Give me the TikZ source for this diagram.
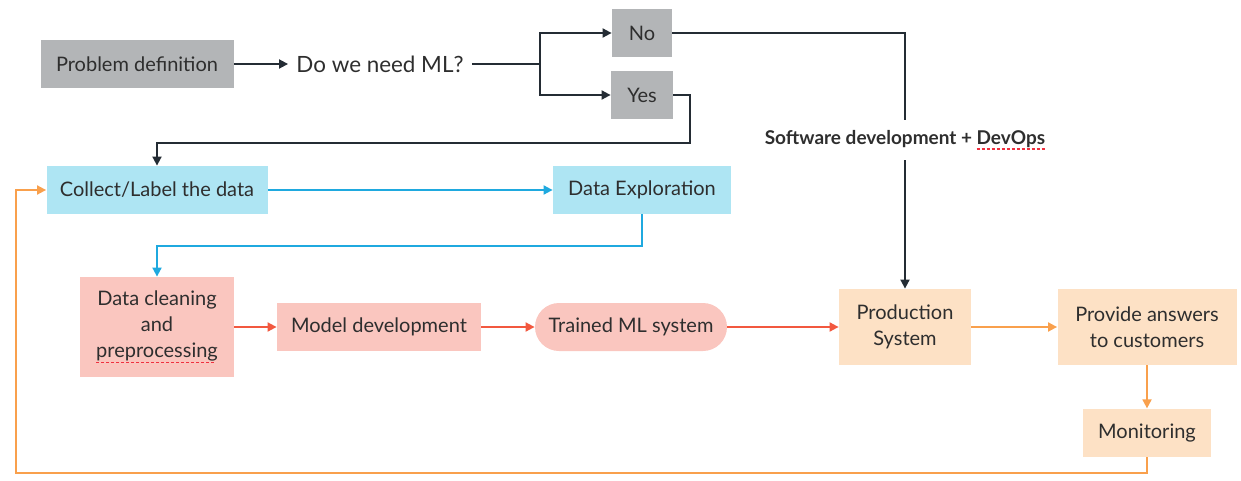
\documentclass[tikz,border=0pt]{standalone}
\usepackage{fontspec}
\setmainfont{Lato}
\usetikzlibrary{arrows.meta, positioning}

\definecolor{boxgray}{HTML}{B3B5B7}
\definecolor{boxblue}{HTML}{AEE5F3}
\definecolor{boxpink}{HTML}{FAC6BF}
\definecolor{boxpeach}{HTML}{FDE1C5}
\definecolor{linedark}{HTML}{242C34}
\definecolor{lineblue}{HTML}{1FA9DF}
\definecolor{linered}{HTML}{F2583F}
\definecolor{lineorange}{HTML}{F9A04C}
\definecolor{textdark}{HTML}{2E2E2E}
\definecolor{spellred}{HTML}{F0303F}

\newsavebox{\spellbox}
\newcount\spellcount
\def\spelldashes{\ifnum\spellcount>0 \rule{1.6pt}{0.8pt}\kern0.9pt\advance\spellcount-1 \expandafter\spelldashes\fi}
\newcommand{\spellmark}[1]{\sbox{\spellbox}{#1}%
    \spellcount=\numexpr\wd\spellbox/\dimexpr2.5pt\relax\relax
    \textcolor{spellred}{\rlap{\raisebox{-3pt}{\spelldashes}}}%
    \usebox{\spellbox}}

\begin{document}
\begin{tikzpicture}[
        x=0.5pt, y=-0.5pt,
        box/.style={rectangle, inner sep=0pt, align=center, text=textdark,
            font=\fontsize{10}{13}\selectfont},
        graybox/.style={box, fill=boxgray},
        bluebox/.style={box, fill=boxblue},
        pinkbox/.style={box, fill=boxpink},
        peachbox/.style={box, fill=boxpeach},
        link/.style={-{Triangle[length=4.5pt, width=4.5pt]}, line width=0.9pt},
        darklink/.style={link, draw=linedark},
        bluelink/.style={link, draw=lineblue},
        redlink/.style={link, draw=linered},
        orangelink/.style={link, draw=lineorange}
    ]
    \useasboundingbox (0,0) rectangle (1241,481);

    % Nodes
    \node[graybox, minimum width=96.5pt, minimum height=24pt] (probdef) at (137,64) {Problem definition};
    \node[text=textdark, inner sep=4pt, font=\fontsize{11.2}{14}\selectfont] (needml) at (380,64) {Do we need ML?};
    \node[graybox, minimum width=30pt, minimum height=24pt] (no) at (642,33) {No};
    \node[graybox, minimum width=31pt, minimum height=24pt] (yes) at (642,95) {Yes};
    \node[text=textdark, inner xsep=2pt, inner ysep=5pt, font=\fontsize{9.5}{12}\bfseries] (swdev) at (905,140)
        {Software development + \spellmark{DevOps}};

    \node[bluebox, minimum width=110.5pt, minimum height=24pt] (collect) at (157,190) {Collect/Label the data};
    \node[bluebox, minimum width=89pt, minimum height=24pt] (explore) at (642,190) {Data Exploration};

    \node[pinkbox, minimum width=77pt, minimum height=50pt] (clean) at (157,327) {Data cleaning\\and\\\spellmark{preprocessing}};
    \node[pinkbox, minimum width=102pt, minimum height=24pt] (model) at (379,327) {Model development};
    \node[pinkbox, minimum width=96pt, minimum height=24pt, rounded corners=12pt] (trained) at (631,327) {Trained ML system};

    \node[peachbox, minimum width=66pt, minimum height=38pt] (prod) at (905,327) {Production\\System};
    \node[peachbox, minimum width=89.5pt, minimum height=38pt] (answers) at (1147,327) {Provide answers\\to customers};
    \node[peachbox, minimum width=64pt, minimum height=24pt, below=21.5pt of answers] (monit) {Monitoring};

    \coordinate (split) at (540,64);
    \coordinate (yesturn) at (690,143);
    \coordinate (bluebend) at (400,246);
    \coordinate (loopbr) at (1147,473);
    \coordinate (loopbl) at (16,473);

    % Links
    \draw[darklink] (probdef) -- (needml);
    \draw[line width=0.9pt, draw=linedark] (needml) -- (split);
    \draw[darklink] (split) |- (no);
    \draw[darklink] (split) |- (yes);
    \draw[darklink] (yes.east) -| (yesturn) -| (collect.north);
    \draw[line width=0.9pt, draw=linedark] (no.east) -| (swdev.north);
    \draw[darklink] (swdev.south) -- (prod.north);

    \draw[bluelink] (collect) -- (explore);
    \draw[bluelink] (explore.south) |- (bluebend) -| (clean.north);

    \draw[redlink] (clean) -- (model);
    \draw[redlink] (model) -- (trained);
    \draw[redlink] (trained) -- (prod);

    \draw[orangelink] (prod) -- (answers);
    \draw[orangelink] (answers) -- (monit);
    \draw[orangelink] (monit.south) -- (loopbr) -- (loopbl) |- (collect.west);

\end{tikzpicture}
\end{document}
